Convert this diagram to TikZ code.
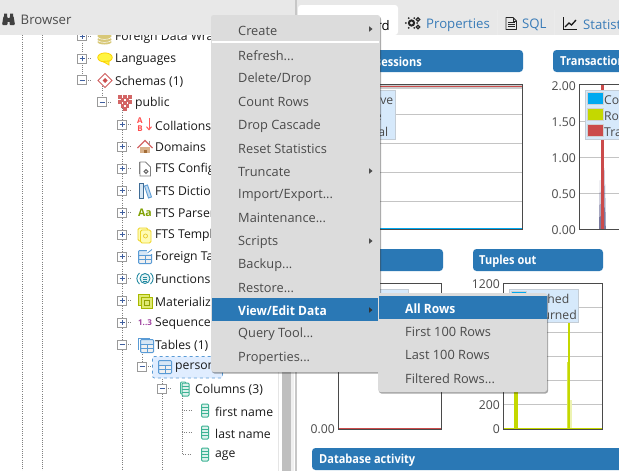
\documentclass[tikz,border=0pt]{standalone}
\usepackage{fontspec}
\setmainfont{Open Sans}
\newfontfamily\barfont{Open Sans}[FakeStretch=0.89]
\newfontfamily\selfont{Open Sans}[FakeStretch=0.94]
\usetikzlibrary{shadows,arrows.meta}
\definecolor{hdr}{HTML}{E8E8E8}
\definecolor{menubg}{HTML}{DCDCDC}
\definecolor{menutx}{HTML}{4A4A4A}
\definecolor{blu}{HTML}{2A78B5}
\definecolor{tabblue}{HTML}{3A7CB8}
\definecolor{lime}{HTML}{C4D800}
\definecolor{skyb}{HTML}{00A9F0}
\definecolor{redd}{HTML}{CB4B4B}
\definecolor{gridc}{HTML}{C4C4C4}
\definecolor{frame}{HTML}{4A4A4A}
\definecolor{legbg}{HTML}{D6E9FB}
\definecolor{legbd}{HTML}{C4CDD6}
\definecolor{treetx}{HTML}{1A1A1A}
\definecolor{teal1}{HTML}{3DB394}
\definecolor{ico}{HTML}{5A9BD5}
\definecolor{expbox}{HTML}{9A9A9A}
\definecolor{expsign}{HTML}{3F5F9F}
\definecolor{khaki}{HTML}{D8C878}
\tikzset{x=1pt,y=-1pt,
 tree/.style={font=\fontsize{12.2}{14}\selectfont,text=treetx,anchor=west,inner sep=0pt,yshift=-1pt},
 item/.style={font=\fontsize{12.8}{15}\selectfont,text=menutx,anchor=west,inner sep=0pt,yshift=-1pt},
 itemsel/.style={font=\selfont\fontsize{12.8}{15}\selectfont\bfseries,text=white,anchor=west,inner sep=0pt,yshift=-1pt},
 tabt/.style={font=\fontsize{13.2}{16}\selectfont,text=tabblue,anchor=west,inner sep=0pt,yshift=-1.5pt},
 bart/.style={font=\barfont\fontsize{12.4}{15}\selectfont\bfseries,text=white,inner sep=0pt,yshift=-1.2pt},
 axl/.style={font=\fontsize{12.2}{14}\selectfont,text=menutx,anchor=east,inner sep=0pt,yshift=-1pt},
 legt/.style={font=\fontsize{12.2}{14}\selectfont,text=menutx,anchor=west,inner sep=0pt,yshift=-1pt},
 dotl/.style={draw=black!50,line width=0.7pt,dash pattern=on 1pt off 1.2pt},
 gridline/.style={draw=gridc,line width=1.1pt},
 panelbar/.style={fill=blu,rounded corners=3.5pt},
 menubox/.style={fill=menubg,rounded corners=2.5pt,drop shadow={shadow xshift=1pt,shadow yshift=-1.5pt,opacity=0.35,fill=black}},
 sel/.style={fill=blu}
}
% expander: x,y, 1=plus
\newcommand{\expander}[3]{%
 \draw[dotl] (#1+4,#2) -- (#1+10,#2);
 \fill[white] (#1-4.5,#2-4.5) rectangle (#1+4.5,#2+4.5);
 \draw[expbox,line width=0.8pt] (#1-4.5,#2-4.5) rectangle (#1+4.5,#2+4.5);
 \draw[expsign,line width=0.7pt] (#1-2.5,#2) -- (#1+2.5,#2);
 \ifnum#3=1 \draw[expsign,line width=0.7pt] (#1,#2-2.5) -- (#1,#2+2.5);\fi}
\newcommand{\tableico}[3]{% x y colour
 \fill[#3!25] (#1-6.5,#2-6.5) rectangle (#1+6.5,#2+6.5);
 \fill[black!6] (#1-5.5,#2-2) rectangle (#1+5.5,#2+5.5);
 \draw[#3,line width=1pt,rounded corners=1pt] (#1-6.5,#2-6.5) rectangle (#1+6.5,#2+6.5);
 \draw[#3,line width=0.6pt] (#1-6.5,#2-2) -- (#1+6.5,#2-2) (#1-6.5,#2+2) -- (#1+6.5,#2+2) (#1,#2-2) -- (#1,#2+6.5);}
\newcommand{\colico}[2]{%
 \fill[teal1!18] (#1-3.5,#2-6.5) rectangle (#1+3.5,#2+6.5);
 \draw[teal1,line width=1pt,rounded corners=1pt] (#1-3.5,#2-6.5) rectangle (#1+3.5,#2+6.5);
 \draw[teal1,line width=0.5pt] (#1-3.5,#2-3) -- (#1+3.5,#2-3) (#1-3.5,#2) -- (#1+3.5,#2) (#1-3.5,#2+3) -- (#1+3.5,#2+3);}
\begin{document}
\begin{tikzpicture}
\useasboundingbox (0,0) rectangle (619,471);
\clip (0,0) rectangle (619,471);
\fill[white] (0,0) rectangle (619,471);
% ---------- right pane: charts
\fill[panelbar] (340,50) rectangle (523,72);
\node[bart,anchor=east] (t1) at (422,61) {Database sessions};
\fill[panelbar] (553,50) rectangle (640,72);
\node[bart,anchor=west] (t2) at (560,61) {Transactions per second};
% chart 1
\draw[gridline] (340,114.5) -- (522,114.5) (340,143.5) -- (522,143.5) (340,172.5) -- (522,172.5) (340,201.5) -- (522,201.5);
\fill[black!20] (340,85) rectangle (522,89);
\draw[redd,line width=0.7pt] (340,86.5) -- (522,86.5);
\draw[skyb,line width=1.2pt] (340,229) -- (522,229);
\draw[frame,line width=0.9pt] (340,84.5) rectangle (522,229.5);
\draw[fill=legbg,draw=legbd,line width=0.8pt] (340,90) rectangle (395.5,139);
\node[legt,anchor=east] (la1) at (393.5,99) {Active};
\node[legt,anchor=east] (la2) at (382,115) {Idle};
\node[legt,anchor=east] (la3) at (388.5,130.5) {Total};
% chart 2
\draw[gridline] (579.5,121.5) -- (640,121.5) (579.5,157.5) -- (640,157.5) (579.5,193.5) -- (640,193.5);
\draw[redd,line width=1pt] (580,229) -- (640,229);
\fill[redd] (601,84.5) rectangle (604,229);
\fill[black!40!blue!30!gray,opacity=.8] (599,229) -- (600,180) -- (601,229) -- cycle;
\fill[black!40!blue!30!gray,opacity=.8] (604,229) -- (604.7,168) -- (605.8,229) -- cycle;
\draw[frame,line width=0.9pt] (640,84.5) -- (579.5,84.5) -- (579.5,229.5) -- (640,229.5);
\foreach \y/\l/\n in {85/2.00/a,121/1.50/b,157/1.00/c,193/0.50/d,229/0.00/e}
  \node[axl] (ty\n) at (576,\y) {\l};
\draw[fill=legbg,draw=legbd,line width=0.8pt] (585.5,90.5) rectangle (640,139);
\foreach \y/\c in {93/skyb,109/lime,125/redd}{
  \fill[black!18] (587,\y-1) rectangle (603.5,\y+12);
  \fill[\c] (588,\y) rectangle (603,\y+11);}
\node[legt] (lb1) at (604,99) {Commits};
\node[legt] (lb2) at (604,115) {Rollbacks};
\node[legt] (lb3) at (604,131) {Transactions};
% chart 3 (tuples in)
\fill[panelbar] (340,249) rectangle (443,271);
\draw[redd,line width=1pt] (339,428.5) -- (441,428.5);
\draw[frame,line width=0.9pt] (338.5,283) rectangle (441.5,429);
\draw[fill=legbg,draw=legbd,line width=0.8pt] (340,289) rectangle (408,330);
\node[axl] (t3y) at (335,428) {0.00};
% chart 4 (tuples out)
\fill[panelbar] (473,249) rectangle (603,271);
\node[bart,anchor=west] (t4) at (479,260) {Tuples out};
\draw[gridline] (503.5,307.5) -- (602.5,307.5) (503.5,332.5) -- (602.5,332.5) (503.5,356.5) -- (602.5,356.5) (503.5,380.5) -- (602.5,380.5) (503.5,404.5) -- (602.5,404.5);
\fill[lime] (514,300) rectangle (518,428.5);
\fill[lime!70] (566.5,362) rectangle (568,428.5);
\fill[lime] (567.5,322) rectangle (570,428.5);
\fill[lime!30] (570,400) rectangle (571.5,428.5);
\draw[lime,line width=1pt] (504,428.3) -- (602,428.3);
\draw[frame,line width=0.9pt] (503.5,283.5) rectangle (602.5,429);
\node[axl] (t4a) at (500,283.5) {1200};
\node[axl] (t4b) at (500,404.5) {200};
\node[axl] (t4c) at (500,428.5) {0};
\draw[fill=legbg,draw=legbd,line width=0.8pt] (509.5,289.5) rectangle (578,322);
\fill[black!18] (510.5,290.5) rectangle (527,303);
\fill[skyb] (511.5,291.5) rectangle (526,303);
\node[legt,anchor=east] (lc1) at (569.5,298) {Fetched};
\node[legt,anchor=east] (lc2) at (577,314) {Returned};
% activity bar
\fill[panelbar] (312,448) rectangle (640,470);
\node[bart,anchor=west] (t5) at (319,459) {Database activity};
% ---------- tab row
\fill[hdr] (0,0) rectangle (619,35);
\fill[white,rounded corners=3pt] (298,35) -- (298,5) -- (398,5) -- (398,35) -- cycle;
\node[tabt,text=black,anchor=east] (tb0) at (390,24) {Dashboard};
\draw[black!8,line width=0.7pt] (497.5,10) -- (497.5,35) (554.5,10) -- (554.5,35);
% gears
\draw[black!85,line width=2pt] (411.5,23) circle (2.6);
\foreach \a in {0,60,120,180,240,300} \fill[black!85] (411.5,23) ++(\a:5.6) circle (1);
\draw[black!85,line width=1.2pt] (418,19.5) circle (1.7);
\draw[black!85,line width=1.2pt] (418,27) circle (1.7);
\node[tabt] (tb1) at (426,23.5) {Properties};
% doc
\draw[black!85,line width=0.9pt,line join=round] (506,17.5) -- (513,17.5) -- (516.5,21) -- (516.5,29.5) -- (506,29.5) -- cycle;
\draw[black!85,line width=0.7pt] (513,17.5) -- (513,21) -- (516.5,21) (508,22.5) -- (514.5,22.5) (508,24.5) -- (514.5,24.5) (508,26.5) -- (514.5,26.5);
\node[tabt] (tb2) at (522,23.5) {SQL};
% line chart icon
\draw[black!90,line width=0.9pt] (563.5,17) -- (563.5,29.5) -- (577,29.5);
\draw[black!90,line width=1.3pt] (565,27) -- (569,23) -- (571.5,25) -- (576,20);
\node[tabt] (tb3) at (583,23.5) {Statistics};
% ---------- left pane
\fill[white] (0,35) rectangle (297,471);
\foreach \x in {22.5,42.5} \draw[dotl] (\x,35) -- (\x,471);
\draw[dotl] (82,36) -- (82,80);
\draw[dotl] (102,86) -- (102,98);
\draw[dotl] (122,108) -- (122,471);
\draw[dotl] (142,350) -- (142,362);
\draw[dotl] (162,372) -- (162,471);
\draw[dotl] (182,394) -- (182,454.5) -- (191,454.5);
\draw[dotl] (182,410.5) -- (191,410.5) (182,432.5) -- (191,432.5);
% scrollbars
\draw[black!10,line width=0.8pt] (278.5,35) -- (278.5,471);
\fill[black!25] (282,35) rectangle (290.5,471);
\fill[black!6] (290.5,35) rectangle (293.5,471);
\fill[black!22] (294.5,0) rectangle (296.5,471);
% person highlight
\draw[fill=blue!60!cyan!12,draw=ico,dashed,line width=0.7pt,rounded corners=2pt] (152.5,356.5) rectangle (222.5,378);
% expanders
\expander{82}{36}{1}
\expander{82}{58.5}{1}
\expander{82}{80}{0}
\expander{102}{102}{0}
\foreach \y in {124.5,146.5,168.5,190.5,212.5,234.5,256.5,278.5,300.5,322.5} {\expander{122}{\y}{1}}
\expander{122}{344.5}{0}
\expander{142}{366.5}{0}
\expander{162}{388.5}{0}
% tree labels
\node[tree] (n1) at (115,36.5) {Foreign Data Wrappers};
\node[tree] (n2) at (115,58.5) {Languages};
\node[tree] (n3) at (115,80.5) {Schemas (1)};
\node[tree] (n4) at (135,102.5) {public};
\node[tree] (n5) at (155,124.5) {Collations};
\node[tree] (n6) at (155,146.5) {Domains};
\node[tree] (n7) at (155,168.5) {FTS Configurations};
\node[tree] (n8) at (155,190.5) {FTS Dictionaries};
\node[tree] (n9) at (155,212.5) {FTS Parsers};
\node[tree] (n10) at (155,234.5) {FTS Templates};
\node[tree] (n11) at (155,256.5) {Foreign Tables};
\node[tree] (n12) at (155,278.5) {Functions};
\node[tree] (n13) at (155,300.5) {Materialized Views};
\node[tree] (n14) at (155,322.5) {Sequences};
\node[tree] (n15) at (155,344.5) {Tables (1)};
\node[tree] (n16) at (175,366.5) {person};
\node[tree] (n17) at (195,388.5) {Columns (3)};
\node[tree] (n18) at (215,410.5) {first name};
\node[tree] (n19) at (215,432.5) {last name};
\node[tree] (n20) at (215,454.5) {age};
% tree icons
% foreign data wrappers
\fill[khaki] (104.5,36) ellipse (7 and 3);
\fill[khaki] (104.5,39.5) ellipse (7 and 3);
\fill[khaki] (104.5,42) ellipse (7 and 2.5);
\draw[white,line width=0.5pt] (97.5,37.5) .. controls (100,40) and (109,40) .. (111.5,37.5);
\draw[white,line width=0.5pt] (97.5,40.5) .. controls (100,43) and (109,43) .. (111.5,40.5);
% languages
\fill[yellow!75!white,draw=yellow!70!orange,line width=0.8pt] (105,57.5) ellipse (7.3 and 4.6);
\fill[yellow!75!white,draw=yellow!70!orange,line width=0.8pt] (103,61.5) -- (109,61) -- (109,65) -- cycle;
% schemas
\draw[redd!90,line width=0.9pt,fill=white] (105,73.5) -- (112,80.5) -- (105,87.5) -- (98,80.5) -- cycle;
\fill[redd] (105,78) -- (107.5,80.5) -- (105,83) -- (102.5,80.5) -- cycle;
% public
\foreach \p in {(120,97),(125,97),(130,97),(122.5,100),(127.5,100),(120,102),(130,102),(125,103),(122.5,106),(127.5,106),(125,109)}
  \fill[redd!85] \p ++(-1.7,-1.7) rectangle ++(3.4,3.4);
% collations
\node[inner sep=0pt,text=red!70!white,font=\fontsize{8}{7}\selectfont\bfseries] (ca) at (140,120.5) {A};
\node[inner sep=0pt,text=red!70!white,font=\fontsize{8}{7}\selectfont\bfseries] (cb) at (140,129) {B};
\draw[red!65!white,line width=1pt,-{Straight Barb[length=3pt,width=5pt]}] (149,118) -- (149,130.5);
% domains
\fill[brown!60!white] (140,147) rectangle (150,153);
\fill[brown!85!black] (144,149.5) rectangle (147,153);
\draw[redd!85,line width=1.3pt] (137.5,148) -- (145,140.5) -- (152.5,148);
\fill[black!40] (148.5,140.5) rectangle (150,144);
% FTS config
\draw[black!50,line width=0.8pt,fill=white] (140,162) -- (145.5,162) -- (150.5,167) -- (150.5,176) -- (140,176) -- cycle;
\draw[black!50,line width=0.8pt] (139,162) -- (139,174);
\draw[black!60,line width=1pt] (146,171.5) circle (1.8);
% FTS dict
\draw[ico!70!black,line width=0.8pt,fill=ico!25] (139,183.5) rectangle (143,198);
\draw[ico,line width=0.9pt,fill=ico!35] (144.5,186) -- (147.5,185) -- (151.5,197) -- (148.5,198) -- cycle;
% FTS parser
\definecolor{aagreen}{HTML}{7FA000}
\node[inner sep=0pt,font=\fontsize{10.5}{10}\selectfont\bfseries,text=aagreen] (aa) at (145,212.5) {Aa};
% FTS template
\draw[yellow!70!brown,line width=0.9pt,fill=yellow!30,rounded corners=1.5pt] (138,228) rectangle (148,241);
\draw[yellow!70!brown,line width=0.9pt,fill=yellow!30,rounded corners=1.5pt] (140.5,230) rectangle (151,243);
\draw[yellow!60!brown,line width=0.7pt] (145.5,236) circle (2);
% foreign tables
\tableico{145}{257}{ico}
\fill[white] (147,249) rectangle (153,254);
\draw[ico,line width=0.8pt] (147.5,253) -- (152,249.5);
% functions
\draw[teal!60!ico,line width=0.9pt,fill=teal!10] (145,278.5) circle (5);
\draw[teal!60!ico,line width=0.9pt] (139.5,273) .. controls (136,276) and (136,281) .. (139.5,284);
\draw[teal!60!ico,line width=0.9pt] (150.5,273) .. controls (154,276) and (154,281) .. (150.5,284);
\draw[teal!60!ico,line width=0.6pt] (143,277) -- (147,277) (143,279) -- (147,279) (143,281) -- (147,281);
% matviews
\fill[lime!55,draw=lime!85!black,line width=0.7pt] (138,294) rectangle (149,305);
\fill[lime!55,draw=lime!85!black,line width=0.7pt] (141,297) rectangle (152,308);
\draw[lime!75!black,line width=0.7pt] (144,300) rectangle (149,305);
% sequences
\node[inner sep=0pt,font=\fontsize{8}{8}\selectfont\bfseries,text=violet!75!white] (sq) at (145,322.5) {1..3};
% tables
\tableico{147}{346}{ico}
\draw[ico,line width=0.9pt,rounded corners=1pt] (138,338) -- (138,350) (138,338) -- (150,338);
\tableico{165}{367}{ico}
% columns
\draw[teal1,line width=0.9pt,fill=teal1!15,rounded corners=1pt] (180.5,382) rectangle (186,394);
\colico{185.5}{389.5}
\colico{205}{410.5}
\colico{205}{432.5}
\colico{205}{454.5}
% browser header
\fill[hdr] (0,0) rectangle (294.5,35);
\node[inner sep=0pt,anchor=west,font=\fontsize{13.2}{16}\selectfont,text=black!70,yshift=-1pt] (br) at (20.5,19) {Browser};
% binoculars
\fill[black!75,rounded corners=1pt] (2,25) -- (3.5,16) -- (7.5,16) -- (7.5,25) -- cycle;
\fill[black!75,rounded corners=1pt] (15,25) -- (13.5,16) -- (9.5,16) -- (9.5,25) -- cycle;
\fill[black!75] (7,18) rectangle (10,22);
\fill[black!75] (4,13.5) rectangle (7,17) (10,13.5) rectangle (13,17);
% ---------- context menu
\path[menubox] (211,15) rectangle (380,372);
\fill[white] (212,41) rectangle (379,43);
\fill[sel] (212,298) rectangle (380,321);
\node[item] (ma) at (238,30) {Create};
\node[item] (mb) at (238,55) {Refresh...};
\node[item] (mc) at (238,78) {Delete/Drop};
\node[item] (md) at (238,101) {Count Rows};
\node[item] (me) at (238,125) {Drop Cascade};
\node[item] (mf) at (238,148) {Reset Statistics};
\node[item] (mg) at (238,171) {Truncate};
\node[item] (mh) at (238,194) {Import/Export...};
\node[item] (mi) at (238,217) {Maintenance...};
\node[item] (mj) at (238,241) {Scripts};
\node[item] (mk) at (238,264) {Backup...};
\node[item] (ml) at (238,287) {Restore...};
\node[itemsel] (mm) at (238,310) {View/Edit Data};
\node[item] (mn) at (238,333) {Query Tool...};
\node[item] (mo) at (238,357) {Properties...};
\foreach \y/\c in {29/black!70,171/black!70,241/black!70,310/black!80}
  \fill[\c] (369,\y-2.8) -- (372.5,\y) -- (369,\y+2.8) -- cycle;
% ---------- submenu
\path[menubox] (378,293) rectangle (547,392);
\fill[sel] (379,296) rectangle (547,319);
\node[itemsel] (s1) at (405,308) {All Rows};
\node[item] (s2) at (405,331) {First 100 Rows};
\node[item] (s3) at (405,354) {Last 100 Rows};
\node[item] (s4) at (405,378) {Filtered Rows...};
\end{tikzpicture}
\end{document}
